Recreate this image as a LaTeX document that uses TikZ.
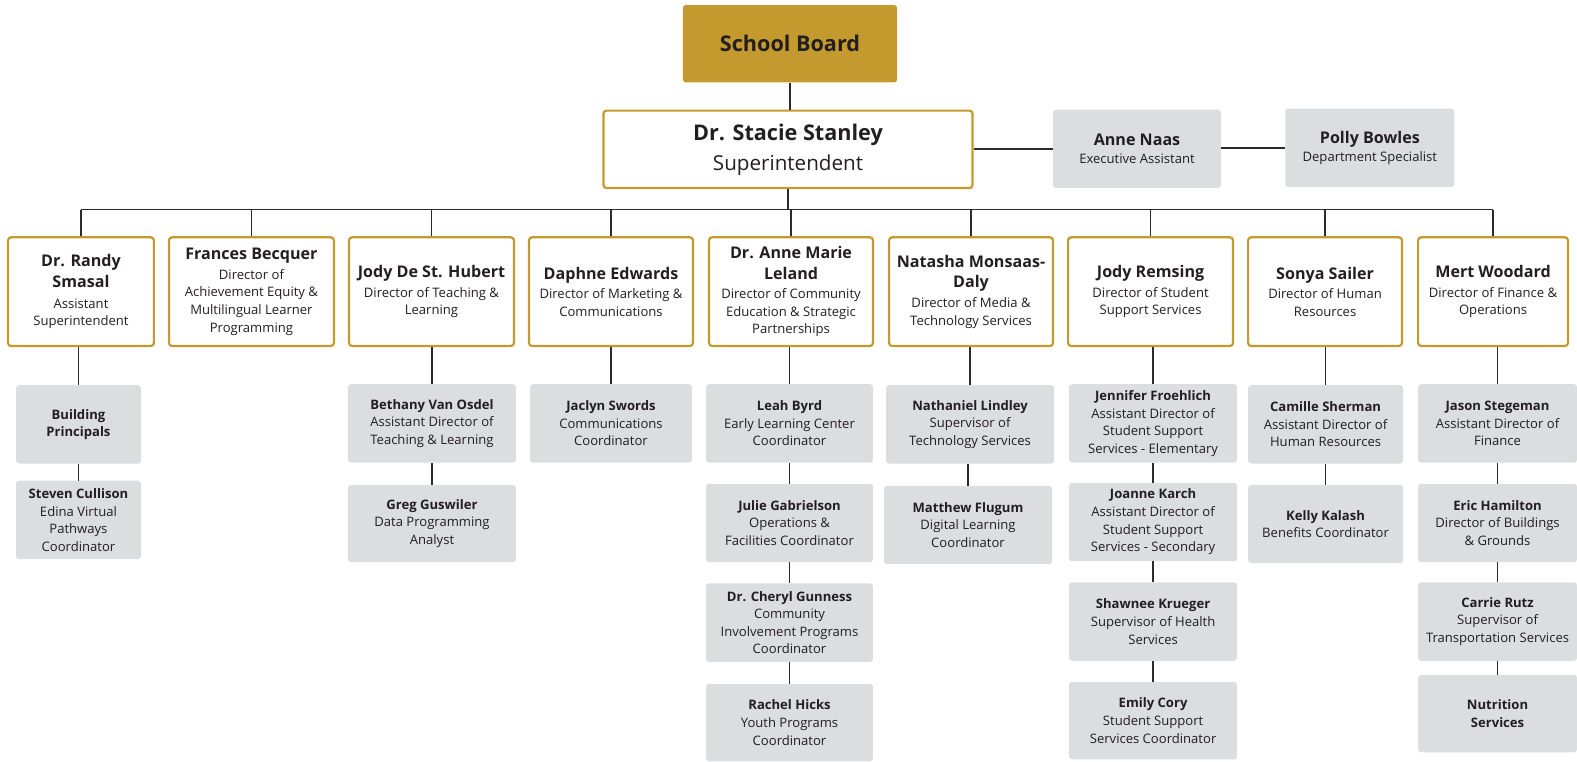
\documentclass[tikz,border=0pt]{standalone}
\usepackage{fontspec}
\setmainfont{Open Sans}
\definecolor{gold}{HTML}{C49A2E}
\definecolor{graybox}{HTML}{DCDDDF}
\definecolor{txt}{HTML}{231F20}
\definecolor{linec}{HTML}{2B2B2B}
\newcommand\dn[1]{{\fontsize{16}{21}\selectfont\bfseries #1}}
\newcommand\gn[1]{{\bfseries #1}}
\newcommand\bx[6]{\node[#1, minimum width=#4, minimum height=#5] (#2) at (#3) {#6};}
\begin{document}
\begin{tikzpicture}[x=1pt,y=-1pt,
  box/.style={rounded corners=3pt, align=center, inner sep=0pt, text=txt, font=\fontsize{13}{17.5}\selectfont},
  dir/.style={box, draw=gold, line width=2.2pt, fill=white},
  gray/.style={box, fill=graybox},
  conn/.style={draw=linec, line width=1.4pt}]
\useasboundingbox (0,0) rectangle (1568,757);
% top
\bx{box, fill=gold, font=\fontsize{21.5}{26}\selectfont\bfseries}{board}{785.5,43.5}{213}{77}{School Board}
\bx{dir, font=\fontsize{20.5}{30}\selectfont}{sup}{783.5,148.5}{367}{77}{{\fontsize{21.5}{26}\selectfont\bfseries Dr. Stacie Stanley}\\Superintendent}
\bx{gray}{anne}{1130.5,148}{167}{78}{{\fontsize{16}{20}\selectfont\bfseries Anne Naas}\\Executive Assistant}
\bx{gray}{polly}{1362,147}{168}{78}{{\fontsize{16}{20}\selectfont\bfseries Polly Bowles}\\Department Specialist}
% directors
\bx{dir}{randy}{80.5,290}{145}{108}{\dn{Dr. Randy}\\[3pt]\dn{Smasal}\\[3pt]Assistant\\Superintendent}
\bx{dir}{frances}{250,290}{164}{108}{\dn{Frances Becquer}\\[2pt]Director of\\Achievement Equity \&\\Multilingual Learner\\Programming}
\bx{dir}{jodyd}{429,290}{164}{108}{\dn{Jody De St. Hubert}\\[2pt]Director of Teaching \&\\Learning}
\bx{dir}{daphne}{607.5,290}{163}{108}{\dn{Daphne Edwards}\\[2pt]Director of Marketing \&\\Communications}
\bx{dir}{am}{786.5,290}{163}{108}{\dn{Dr. Anne Marie}\\[3pt]\dn{Leland}\\[2pt]Director of Community\\Education \& Strategic\\Partnerships}
\bx{dir}{natasha}{965.5,290}{163}{108}{\dn{Natasha Monsaas-}\\[3pt]\dn{Daly}\\[2pt]Director of Media \&\\Technology Services}
\bx{dir}{jodyr}{1144,290}{164}{108}{\dn{Jody Remsing}\\[2pt]Director of Student\\Support Services}
\bx{dir}{sonya}{1317.5,290}{153}{108}{\dn{Sonya Sailer}\\[2pt]Director of Human\\Resources}
\bx{dir}{mert}{1484.5,290}{149}{108}{\dn{Mert Woodard}\\[2pt]Director of Finance \&\\Operations}
% row 1
\bx{gray}{bp}{78,422}{124}{78}{\gn{Building}\\\gn{Principals}}
\bx{gray}{bethany}{429.5,421}{167}{78}{\gn{Bethany Van Osdel}\\Assistant Director of\\Teaching \& Learning}
\bx{gray}{jaclyn}{607.5,421}{161}{78}{\gn{Jaclyn Swords}\\Communications\\Coordinator}
\bx{gray}{leah}{785,421}{166}{78}{\gn{Leah Byrd}\\Early Learning Center\\Coordinator}
\bx{gray}{nathaniel}{964.5,422}{167}{78}{\gn{Nathaniel Lindley}\\Supervisor of\\Technology Services}
\bx{gray}{jennifer}{1146.5,421}{167}{78}{\gn{Jennifer Froehlich}\\Assistant Director of\\Student Support\\Services - Elementary}
\bx{gray}{camille}{1318,422}{154}{78}{\gn{Camille Sherman}\\Assistant Director of\\Human Resources}
\bx{gray}{jason}{1489,421}{158}{78}{\gn{Jason Stegeman}\\Assistant Director of\\Finance}
% row 2
\bx{gray}{steven}{78,517}{124}{78}{\gn{Steven Cullison}\\Edina Virtual\\Pathways\\Coordinator}
\bx{gray}{greg}{429.5,520.5}{167}{77}{\gn{Greg Guswiler}\\Data Programming\\Analyst}
\bx{gray}{julie}{785,520}{166}{78}{\gn{Julie Gabrielson}\\Operations \&\\Facilities Coordinator}
\bx{gray}{matthew}{962.5,522}{167}{78}{\gn{Matthew Flugum}\\Digital Learning\\Coordinator}
\bx{gray}{joanne}{1146.5,519}{167}{78}{\gn{Joanne Karch}\\Assistant Director of\\Student Support\\Services - Secondary}
\bx{gray}{kelly}{1318,521}{154}{78}{\gn{Kelly Kalash}\\Benefits Coordinator}
\bx{gray}{eric}{1489,520}{158}{78}{\gn{Eric Hamilton}\\Director of Buildings\\\& Grounds}
% row 3
\bx{gray}{cheryl}{785,619}{166}{78}{\gn{Dr. Cheryl Gunness}\\Community\\Involvement Programs\\Coordinator}
\bx{gray}{shawnee}{1146.5,618}{167}{78}{\gn{Shawnee Krueger}\\Supervisor of Health\\Services}
\bx{gray}{carrie}{1489,618}{158}{78}{\gn{Carrie Rutz}\\Supervisor of\\Transportation Services}
% row 4
\bx{gray}{rachel}{785,718.5}{166}{77}{\gn{Rachel Hicks}\\Youth Programs\\Coordinator}
\bx{gray}{emily}{1146.5,716.5}{167}{77}{\gn{Emily Cory}\\Student Support\\Services Coordinator}
\bx{gray}{nutrition}{1489,709.5}{158}{77}{\gn{Nutrition}\\\gn{Services}}
% connectors
\coordinate (bus) at (0,208.5);
\draw[conn] (board.south) -- (board.south |- sup.north);
\draw[conn] (anne.west) -- (anne.west -| sup.east);
\draw[conn] (polly.west) -- (polly.west -| anne.east);
\draw[conn] (sup.south) -- (sup.south |- bus);
\draw[conn] (randy.north |- bus) -- (mert.north |- bus);
\foreach \d in {randy,frances,jodyd,daphne,am,natasha,jodyr,sonya,mert}
  \draw[conn] (\d.north |- bus) -- (\d.north);
\foreach \p/\c in {randy/bp,bp/steven,jodyd/bethany,bethany/greg,daphne/jaclyn,
  am/leah,leah/julie,julie/cheryl,cheryl/rachel,natasha/nathaniel,nathaniel/matthew,
  jodyr/jennifer,jennifer/joanne,joanne/shawnee,shawnee/emily,sonya/camille,camille/kelly,
  mert/jason,jason/eric,eric/carrie,carrie/nutrition}
  \draw[conn] (\c.north) -- (\c.north |- \p.south);
\end{tikzpicture}
\end{document}
